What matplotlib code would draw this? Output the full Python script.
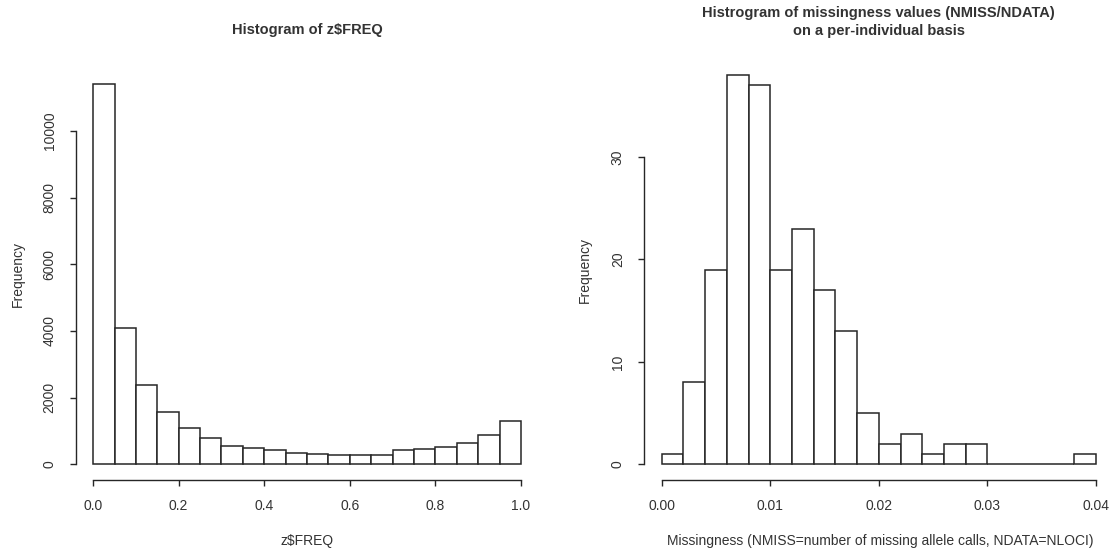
import matplotlib
matplotlib.use("Agg")
import matplotlib.pyplot as plt
import numpy as np

plt.rcParams['font.family'] = ['Liberation Sans', 'DejaVu Sans']

# counts of z$FREQ, 20 bins of width 0.05 on [0, 1]
freq_counts = [11400, 4080, 2380, 1555, 1075, 792, 552, 491, 431, 351,
               300, 290, 290, 290, 431, 451, 511, 652, 873, 1300]
freq_range = (0.0, 1.0)
freq_yticks = [0, 2000, 4000, 6000, 8000, 10000]
freq_xticks = [0.0, 0.2, 0.4, 0.6, 0.8, 1.0]

# missingness per individual, 20 bins of width 0.002 on [0, 0.04]
miss_counts = [1, 8, 19, 38, 37, 19, 23, 17, 13, 5,
               2, 3, 1, 2, 2, 0, 0, 0, 0, 1]
miss_range = (0.0, 0.04)
miss_yticks = [0, 10, 20, 30]
miss_xticks = [0.00, 0.01, 0.02, 0.03, 0.04]

ink = '#262626'
txt = '#333333'

W, H = 1111, 550
fig = plt.figure(figsize=(W / 100, H / 100), dpi=100)


def px_axes(left, right, top, bottom):
    return fig.add_axes([left / W, 1 - bottom / H, (right - left) / W, (bottom - top) / H])


def r_hist(ax, counts, rng, xticks, yticks, xfmt):
    edges = np.linspace(rng[0], rng[1], len(counts) + 1)
    ax.bar(edges[:-1], counts, width=np.diff(edges), align='edge',
           facecolor='white', edgecolor=ink, linewidth=1.1)
    span = rng[1] - rng[0]
    top = max(counts)
    ax.set_xlim(rng[0] - 0.04 * span, rng[1] + 0.04 * span)
    ax.set_ylim(-0.04 * top, 1.04 * top)
    for s in ['top', 'right']:
        ax.spines[s].set_visible(False)
    ax.spines['left'].set_bounds(yticks[0], yticks[-1])
    ax.spines['bottom'].set_bounds(xticks[0], xticks[-1])
    for s in ['left', 'bottom']:
        ax.spines[s].set_color(ink)
        ax.spines[s].set_linewidth(1.0)
    ax.set_xticks(xticks)
    ax.set_xticklabels([xfmt % v for v in xticks])
    ax.set_yticks(yticks)
    ax.set_yticklabels([str(v) for v in yticks], rotation=90, va='center')
    ax.tick_params(direction='out', length=4, width=1.0, color=ink,
                   labelsize=10, labelcolor=txt, pad=10)
    ax.set_facecolor('none')


# left panel
ax1 = px_axes(76, 538, 69, 479.5)
r_hist(ax1, freq_counts, freq_range, freq_xticks, freq_yticks, '%.1f')
ax1.set_title('Histogram of z$FREQ', fontsize=10.5, fontweight='bold', color=txt,
              y=1.0755, va='center')
ax1.set_xlabel('z$FREQ', fontsize=10, color=txt, va='center')
ax1.xaxis.set_label_coords(0.5, -(541 - 479.5) / 410.5)
ax1.set_ylabel('Frequency', fontsize=10, color=txt, va='center')
ax1.yaxis.set_label_coords(-(76 - 18) / 462, 0.5)

# right panel
ax2 = px_axes(644.3, 1113.4, 59.2, 480)
r_hist(ax2, miss_counts, miss_range, miss_xticks, miss_yticks, '%.2f')
ax2.set_title('Histrogram of missingness values (NMISS/NDATA)\non a per-individual basis',
              fontsize=10.5, fontweight='bold', color=txt, y=1.069, va='center',
              linespacing=1.35)
ax2.set_xlabel('Missingness (NMISS=number of missing allele calls, NDATA=NLOCI)',
               fontsize=10, color=txt, va='center')
ax2.xaxis.set_label_coords((880 - 644.3) / 469.1, -(541 - 480) / 420.8)
ax2.set_ylabel('Frequency', fontsize=10, color=txt, va='center')
ax2.yaxis.set_label_coords(-(644.3 - 585) / 469.1, 0.5)

fig.savefig('out.png', dpi=100)
